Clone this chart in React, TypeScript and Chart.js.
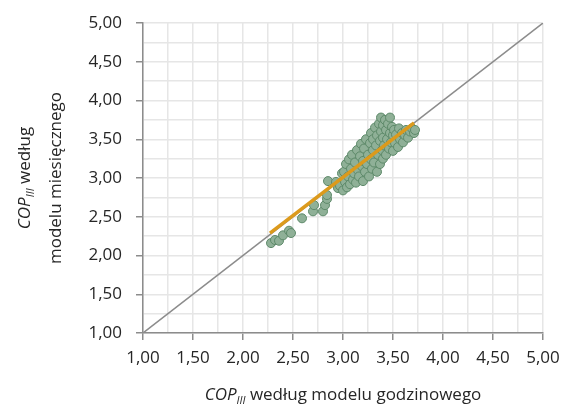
import React, { useEffect, useRef } from "react";
import { Chart, registerables } from "chart.js";

Chart.register(...registerables);

// COP_III by hourly model (x) vs monthly model (y)
const hourlyCOP = [
  2.28, 2.32, 2.36, 2.40, 2.46, 2.48, 2.59, 2.70, 2.71, 2.80, 2.82, 2.84, 2.84, 2.85, 2.93, 2.95, 2.99, 2.97,
  3.00, 3.01, 3.02, 3.03, 3.04, 3.05, 3.06, 3.07, 3.08, 3.09, 3.10,
  3.11, 3.12, 3.13, 3.14, 3.15, 3.16, 3.17, 3.18, 3.19, 3.20, 3.20,
  3.21, 3.22, 3.23, 3.24, 3.25, 3.26, 3.27, 3.28, 3.28, 3.29, 3.30, 3.30,
  3.31, 3.32, 3.33, 3.34, 3.34, 3.35, 3.36, 3.37, 3.37, 3.38, 3.38, 3.39, 3.40, 3.40, 3.40,
  3.41, 3.42, 3.43, 3.43, 3.44, 3.45, 3.46, 3.47, 3.47, 3.48, 3.49, 3.50, 3.50,
  3.51, 3.52, 3.53, 3.55, 3.56, 3.57, 3.59, 3.60,
  3.62, 3.63, 3.65, 3.67, 3.69, 3.71, 3.72,
];
const monthlyCOP = [
  2.16, 2.20, 2.19, 2.26, 2.32, 2.29, 2.48, 2.57, 2.65, 2.57, 2.65, 2.73, 2.78, 2.96, 2.95, 2.87, 3.06, 2.90,
  2.84, 3.08, 2.95, 3.18, 2.88, 3.02, 3.24, 2.92, 3.12, 3.30, 2.98,
  3.06, 3.20, 2.94, 3.36, 3.10, 3.02, 3.28, 3.44, 3.15, 2.96, 3.22,
  3.38, 3.08, 3.50, 3.18, 3.30, 3.02, 3.45, 3.58, 3.24, 3.12, 3.36, 3.50,
  3.20, 3.65, 3.42, 3.08, 3.55, 3.30, 3.70, 3.18, 3.48, 3.78, 3.60, 3.36, 3.25, 3.68, 3.52,
  3.42, 3.75, 3.30, 3.62, 3.50, 3.70, 3.38, 3.78, 3.58, 3.46, 3.66, 3.35, 3.55,
  3.62, 3.45, 3.56, 3.40, 3.64, 3.50, 3.58, 3.46,
  3.55, 3.62, 3.52, 3.60, 3.64, 3.58, 3.62,
];
const identityX = [1, 5];
const identityY = [1, 5];
const trendX = [2.27, 3.71];
const trendY = [2.29, 3.71];

const axisMin = 1;
const axisMax = 5;
const gridStep = 0.25;
const labelStep = 0.5;

const xTitleMain = " według modelu godzinowego";
const yTitleLine1 = " według";
const yTitleLine2 = "modelu miesięcznego";
const copText = "COP";
const subText = "III";

const FONT = "'Open Sans', 'Noto Sans', sans-serif";

function fmt(v: number): string {
  return v.toFixed(2).replace(".", ",");
}

function isMajor(v: number): boolean {
  return Math.abs(v / labelStep - Math.round(v / labelStep)) < 1e-6;
}

function drawCopTitle(ctx: CanvasRenderingContext2D, rest: string, size: number, x: number, y: number) {
  const italic = `italic ${size}px ${FONT}`;
  const subSize = Math.round(size * 0.62);
  const subFont = `italic ${subSize}px ${FONT}`;
  const normal = `${size}px ${FONT}`;
  ctx.font = italic;
  const w1 = ctx.measureText(copText).width;
  ctx.font = subFont;
  const w2 = ctx.measureText(subText).width;
  ctx.font = normal;
  const w3 = ctx.measureText(rest).width;
  const total = w1 + w2 + w3;
  let cx = x - total / 2;
  ctx.textAlign = "left";
  ctx.textBaseline = "alphabetic";
  ctx.font = italic;
  ctx.fillText(copText, cx, y);
  cx += w1;
  ctx.font = subFont;
  ctx.fillText(subText, cx, y + size * 0.25);
  cx += w2;
  ctx.font = normal;
  ctx.fillText(rest, cx, y);
}

const titlePlugin = {
  id: "copTitles",
  afterDraw(chart: any) {
    const ctx: CanvasRenderingContext2D = chart.ctx;
    const area = chart.chartArea;
    const size = 17;
    ctx.save();
    ctx.fillStyle = "#262626";
    const cx = (area.left + area.right) / 2;
    drawCopTitle(ctx, xTitleMain, size, cx, 400);
    const cy = (area.top + area.bottom) / 2;
    ctx.save();
    ctx.rotate(-Math.PI / 2);
    drawCopTitle(ctx, yTitleLine1, size, -cy, 30);
    ctx.font = `${size}px ${FONT}`;
    ctx.textAlign = "center";
    ctx.fillText(yTitleLine2, -cy, 61);
    ctx.restore();
    ctx.restore();
  },
};

export default function App() {
  const ref = useRef<HTMLCanvasElement | null>(null);
  useEffect(() => {
    document.body.style.margin = "0";
    const canvas = ref.current!;
    const points = hourlyCOP.map((x, i) => ({ x, y: monthlyCOP[i] }));
    const identity = identityX.map((x, i) => ({ x, y: identityY[i] }));
    const trend = trendX.map((x, i) => ({ x, y: trendY[i] }));
    const tickColor = (c: any) => (c.tick && isMajor(c.tick.value) ? "#8c8c8c" : "rgba(0,0,0,0)");
    const chart = new Chart(canvas, {
      type: "scatter",
      data: {
        datasets: [
          {
            type: "line",
            data: trend,
            borderColor: "#dc9a1c",
            borderWidth: 3.5,
            pointRadius: 0,
            order: 0,
          } as any,
          {
            data: points,
            backgroundColor: "#8fb097",
            borderColor: "#5e8a6a",
            borderWidth: 1,
            pointRadius: 4.5,
            order: 1,
          },
          {
            type: "line",
            data: identity,
            borderColor: "#8c8c8c",
            borderWidth: 1.5,
            pointRadius: 0,
            order: 2,
          } as any,
        ],
      },
      options: {
        animation: false,
        responsive: false,
        events: [],
        layout: { padding: { top: 23, right: 20, left: 0, bottom: 0 } },
        plugins: { legend: { display: false }, tooltip: { enabled: false } },
        scales: {
          x: {
            type: "linear",
            min: axisMin,
            max: axisMax,
            afterFit: (s: any) => {
              s.height = 80;
              s.paddingLeft = 0;
              s.paddingRight = 0;
            },
            ticks: {
              stepSize: gridStep,
              autoSkip: false,
              maxRotation: 0,
              padding: 8,
              color: "#262626",
              font: { family: FONT, size: 17 },
              callback: (v: any) => (isMajor(Number(v)) ? fmt(Number(v)) : ""),
            },
            grid: { color: "#e6e6e6", lineWidth: 1.5, tickLength: 7, tickColor, tickWidth: 1.5 } as any,
            border: { color: "#8c8c8c", width: 1.5 },
          },
          y: {
            type: "linear",
            min: axisMin,
            max: axisMax,
            afterFit: (s: any) => {
              s.width = 143;
              s.paddingTop = 0;
              s.paddingBottom = 0;
            },
            ticks: {
              stepSize: gridStep,
              autoSkip: false,
              padding: 14,
              color: "#262626",
              font: { family: FONT, size: 17 },
              callback: (v: any) => (isMajor(Number(v)) ? fmt(Number(v)) : ""),
            },
            grid: { color: "#e6e6e6", lineWidth: 1.5, tickLength: 7, tickColor, tickWidth: 1.5 } as any,
            border: { color: "#8c8c8c", width: 1.5 },
          },
        },
      },
      plugins: [titlePlugin],
    });
    return () => chart.destroy();
  }, []);
  return (
    <div style={{ width: 563, height: 413 }}>
      <canvas ref={ref} width={563} height={413} style={{ display: "block" }} />
    </div>
  );
}
